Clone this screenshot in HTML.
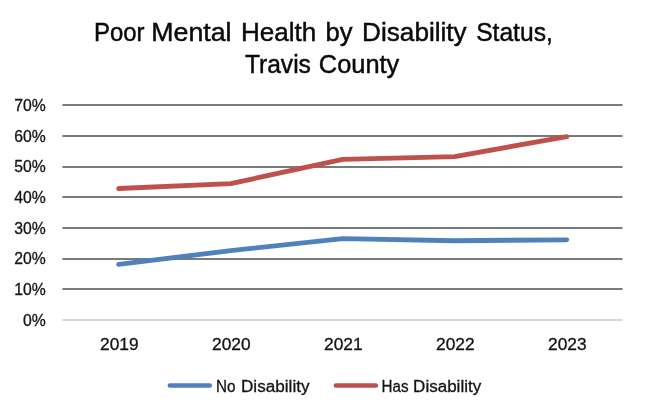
<!DOCTYPE html>
<html><head><meta charset="utf-8"><style>
html,body{margin:0;padding:0;background:#fff;}
svg{display:block;will-change:transform;}
text{font-family:"Liberation Sans",sans-serif;fill:#1e1e1e;}
.t{font-size:25.3px;fill:#0a0a0a;stroke:#0a0a0a;stroke-width:0.45px;}
.ax{font-size:16.2px;fill:#141414;stroke:#141414;stroke-width:0.3px;}
.lg{font-size:16px;fill:#141414;stroke:#141414;stroke-width:0.3px;}
</style></head><body>
<svg width="646" height="416" viewBox="0 0 646 416">
<rect width="646" height="416" fill="#fff"/>
<text x="94.00" y="40.7" class="t" textLength="50.50" lengthAdjust="spacingAndGlyphs">Poor</text>
<text x="151.30" y="40.7" class="t" textLength="80.20" lengthAdjust="spacingAndGlyphs">Mental</text>
<text x="240.90" y="40.7" class="t" textLength="75.30" lengthAdjust="spacingAndGlyphs">Health</text>
<text x="325.50" y="40.7" class="t" textLength="27.00" lengthAdjust="spacingAndGlyphs">by</text>
<text x="362.10" y="40.7" class="t" textLength="104.60" lengthAdjust="spacingAndGlyphs">Disability</text>
<text x="476.20" y="40.7" class="t" textLength="76.60" lengthAdjust="spacingAndGlyphs">Status,</text>
<text x="244.90" y="72.9" class="t" textLength="66.00" lengthAdjust="spacingAndGlyphs">Travis</text>
<text x="318.80" y="72.9" class="t" textLength="80.50" lengthAdjust="spacingAndGlyphs">County</text>
<text x="216.00" y="391.7" class="lg" textLength="19.50" lengthAdjust="spacingAndGlyphs">No</text>
<text x="241.00" y="391.7" class="lg" textLength="68.50" lengthAdjust="spacingAndGlyphs">Disability</text>
<text x="381.60" y="391.7" class="lg" textLength="27.00" lengthAdjust="spacingAndGlyphs">Has</text>
<text x="413.10" y="391.7" class="lg" textLength="68.10" lengthAdjust="spacingAndGlyphs">Disability</text>
<rect x="62.4" y="104" width="560.1" height="2" fill="#7a7a7a"/>
<rect x="62.4" y="135" width="560.1" height="2" fill="#7a7a7a"/>
<rect x="62.4" y="166" width="560.1" height="2" fill="#7a7a7a"/>
<rect x="62.4" y="196" width="560.1" height="2" fill="#7a7a7a"/>
<rect x="62.4" y="227" width="560.1" height="2" fill="#7a7a7a"/>
<rect x="62.4" y="258" width="560.1" height="2" fill="#7a7a7a"/>
<rect x="62.4" y="288" width="560.1" height="2" fill="#7a7a7a"/>
<rect x="62.4" y="319" width="560.1" height="2" fill="#d9d9d9"/>
<text x="45.8" y="325.90" text-anchor="end" class="ax" textLength="22.8" lengthAdjust="spacingAndGlyphs">0%</text>
<text x="45.8" y="295.19" text-anchor="end" class="ax" textLength="31.5" lengthAdjust="spacingAndGlyphs">10%</text>
<text x="45.8" y="264.47" text-anchor="end" class="ax" textLength="31.5" lengthAdjust="spacingAndGlyphs">20%</text>
<text x="45.8" y="233.76" text-anchor="end" class="ax" textLength="31.5" lengthAdjust="spacingAndGlyphs">30%</text>
<text x="45.8" y="203.04" text-anchor="end" class="ax" textLength="31.5" lengthAdjust="spacingAndGlyphs">40%</text>
<text x="45.8" y="172.33" text-anchor="end" class="ax" textLength="31.5" lengthAdjust="spacingAndGlyphs">50%</text>
<text x="45.8" y="141.61" text-anchor="end" class="ax" textLength="31.5" lengthAdjust="spacingAndGlyphs">60%</text>
<text x="45.8" y="110.90" text-anchor="end" class="ax" textLength="31.5" lengthAdjust="spacingAndGlyphs">70%</text>
<text x="119.30" y="349.7" text-anchor="middle" class="ax" textLength="38.5" lengthAdjust="spacingAndGlyphs">2019</text>
<text x="231.30" y="349.7" text-anchor="middle" class="ax" textLength="38.5" lengthAdjust="spacingAndGlyphs">2020</text>
<text x="343.30" y="349.7" text-anchor="middle" class="ax" textLength="38.5" lengthAdjust="spacingAndGlyphs">2021</text>
<text x="455.30" y="349.7" text-anchor="middle" class="ax" textLength="38.5" lengthAdjust="spacingAndGlyphs">2022</text>
<text x="567.30" y="349.7" text-anchor="middle" class="ax" textLength="38.5" lengthAdjust="spacingAndGlyphs">2023</text>
<polyline points="118.70,264.41 230.70,250.59 342.70,238.61 454.70,240.76 566.70,239.84" fill="none" stroke="#4f81bd" stroke-width="4.9" stroke-linecap="round" stroke-linejoin="round"/>
<polyline points="118.70,188.54 230.70,183.63 342.70,159.36 454.70,156.60 566.70,136.64" fill="none" stroke="#c0504d" stroke-width="4.9" stroke-linecap="round" stroke-linejoin="round"/>
<line x1="169.9" y1="385.5" x2="209.8" y2="385.5" stroke="#4f81bd" stroke-width="4.6" stroke-linecap="round"/>
<line x1="335.9" y1="385.5" x2="375.8" y2="385.5" stroke="#c0504d" stroke-width="4.6" stroke-linecap="round"/>
</svg>
</body></html>
